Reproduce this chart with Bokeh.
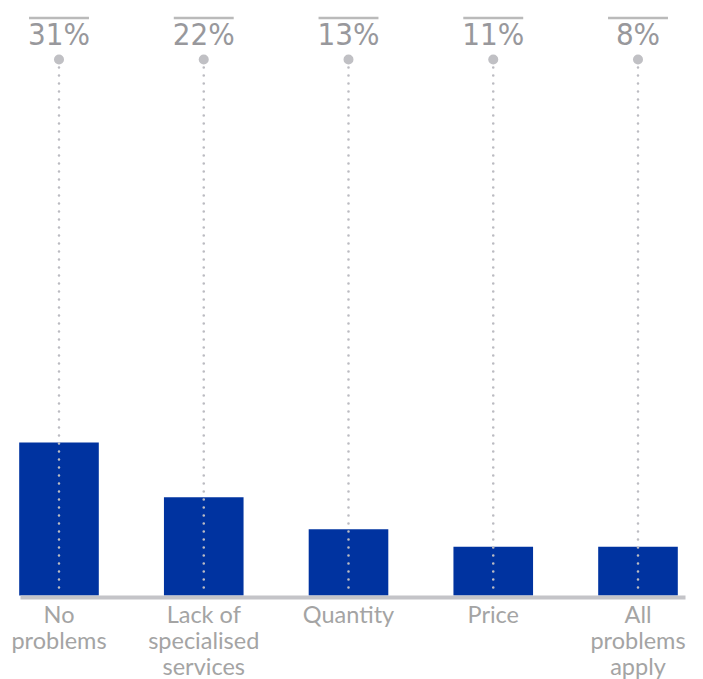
from bokeh.plotting import figure
from bokeh.models import Range1d, ColumnDataSource
from bokeh.core.properties import value
from bokeh.embed import file_html
from bokeh.resources import INLINE

# ---- data ----
categories = ["No\nproblems", "Lack of\nspecialised\nservices", "Quantity", "Price", "All\nproblems\napply"]
pct_labels = ["31%", "22%", "13%", "11%", "8%"]
bar_heights = [31, 19.9, 13.4, 9.9, 9.9]   # bar heights as drawn in the picture

# ---- layout helpers (pixel geometry of the 703x679 page) ----
W, H = 703, 679
X0_PX, STEP_PX = 58.5, 144.75            # centre of first slot, slot spacing
BASE_PX, PX_PER_UNIT = 595.0, 153.0 / 31  # baseline pixel row, pixels per unit

def ypx(py):
    return (BASE_PX - py) / PX_PER_UNIT

def xpx(px):
    return (px - X0_PX) / STEP_PX

xs = list(range(len(categories)))

p = figure(width=W, height=H, output_backend="svg", toolbar_location=None,
           x_range=Range1d(xpx(0), xpx(W)), y_range=Range1d(ypx(H), ypx(0)),
           min_border=0)
p.axis.visible = False
p.grid.visible = False
p.outline_line_color = None
p.background_fill_color = "white"
p.border_fill_color = "white"

src = ColumnDataSource(dict(x=xs, top=bar_heights, cat=categories, lab=pct_labels,
                            ytop=[ypx(59)] * len(xs), ybase=[0] * len(xs),
                            x0=[x - 0.207 for x in xs], x1=[x + 0.207 for x in xs],
                            yover=[ypx(17.5)] * len(xs), ylab=[ypx(15)] * len(xs),
                            ycat=[ypx(599.5)] * len(xs)))

# bars
p.vbar(x="x", top="top", width=0.55, bottom=0, source=src,
       fill_color="#0033a0", line_color=None)

# baseline
p.segment(x0=[xpx(20)], x1=[xpx(685)], y0=[ypx(597)], y1=[ypx(597)],
          line_color="#c4c4c8", line_width=4)

# dotted guide lines
p.segment(x0="x", x1="x", y0="ytop", y1="ybase", source=src,
          line_color="#bcbcc2", line_width=2.6, line_dash="0 8", line_cap="round")

# dots
p.scatter(x="x", y="ytop", size=10, source=src, fill_color="#c0c0c4", line_color=None)

# overlines
p.segment(x0="x0", x1="x1", y0="yover", y1="yover", source=src,
          line_color="#bababa", line_width=2.5)

# percent labels
p.text(x="x", y="ylab", text="lab", source=src, text_align="center",
       text_baseline="top",
       text_font=value("'Liberation Sans Narrow', 'DejaVu Sans Condensed', 'Roboto Condensed', Roboto"),
       text_font_size="31px", text_color="#98989c")

# category labels
p.text(x="x", y="ycat", text="cat", source=src, text_align="center",
       text_baseline="top", text_font=value("Lato"), text_font_size="23.5px",
       text_color="#a4a4a4", text_line_height=0.93)

open("out.html", "w").write(file_html(p, INLINE))
